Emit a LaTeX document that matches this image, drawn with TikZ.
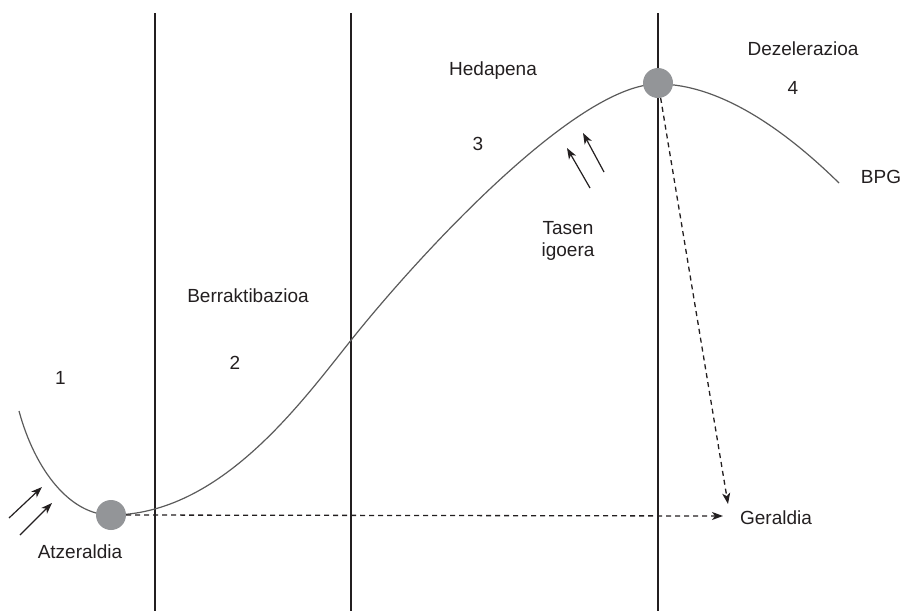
\documentclass[tikz,border=0pt]{standalone}
\usepackage{fontspec}
\setmainfont{Liberation Sans}
\usetikzlibrary{arrows.meta}
\definecolor{txt}{HTML}{231F20}
\definecolor{dotgray}{HTML}{939598}
\definecolor{curvegray}{HTML}{5A5A5A}
\begin{document}
\begin{tikzpicture}[x=1pt,y=-1pt,
  lbl/.style={text=txt,font=\fontsize{19}{22}\selectfont,inner sep=0pt,align=center},
  dotnode/.style={circle,fill=dotgray,minimum size=30pt,inner sep=0pt},
  vline/.style={line width=1.1pt,draw=txt},
  curve/.style={line width=1.2pt,draw=curvegray},
  dashline/.style={line width=1.3pt,draw=txt,dash pattern=on 5pt off 4pt},
  tipend/.style={-{Stealth[length=11pt,width=8pt,inset=3pt]}},
  push/.style={line width=1.2pt,draw=txt,-{Stealth[length=11pt,width=8pt,inset=3pt]}}]
\useasboundingbox (0,0) rectangle (903,611);
% vertical phase lines
\coordinate (v1t) at (155,13); \coordinate (v1b) at (155,611);
\coordinate (v2t) at (351,13); \coordinate (v2b) at (351,611);
\coordinate (v3t) at (658,13); \coordinate (v3b) at (658,611);
\draw[vline] (v1t) -- (v1b);
\draw[vline] (v2t) -- (v2b);
\draw[vline] (v3t) -- (v3b);
% business cycle curve
\coordinate (cs) at (19,411);
\coordinate (cm) at (352,339);
\coordinate (ce) at (839,183);
\draw[curve] (cs) .. controls (35,470) and (70,515) .. (111,515)
  .. controls (220,515) and (300,404) .. (cm)
  .. controls (415,260) and (575,84) .. (658,84)
  .. controls (720,84) and (785,130) .. (ce);
% dots
\node[dotnode] (d1) at (111,515) {};
\node[dotnode] (d2) at (658,83) {};
% labels
\node[lbl] (n1) at (60.5,378) {1};
\node[lbl] (n2) at (235,363) {2};
\node[lbl] (n3) at (478,144) {3};
\node[lbl] (n4) at (793,88) {4};
\node[lbl] (hed) at (493,71) {Hedapena};
\node[lbl] (dez) at (803,49) {Dezelerazioa};
\node[lbl] (bpg) at (881,177) {BPG};
\node[lbl] (tas) at (568,228) {Tasen};
\node[lbl] (igo) at (568,252) {igoera};
\node[lbl] (ber) at (248,296) {Berraktibazioa};
\node[lbl] (atz) at (80,552) {Atzeraldia};
\node[lbl] (ger) at (776,518) {Geraldia};
% dashed arrows to Geraldia
\coordinate (g1) at (723,516);
\coordinate (g2) at (728,504);
\draw[dashline,tipend] (d1.east) -- (g1);
\draw[dashline,tipend] (d2.-80) -- (g2);
% push arrows
\coordinate (a1s) at (9,518);   \coordinate (a1e) at (42,487);
\coordinate (a2s) at (20,535);  \coordinate (a2e) at (52,503);
\coordinate (a3s) at (604,172); \coordinate (a3e) at (583,133);
\coordinate (a4s) at (590,188); \coordinate (a4e) at (567,148);
\draw[push] (a1s) -- (a1e);
\draw[push] (a2s) -- (a2e);
\draw[push] (a3s) -- (a3e);
\draw[push] (a4s) -- (a4e);
\end{tikzpicture}
\end{document}
